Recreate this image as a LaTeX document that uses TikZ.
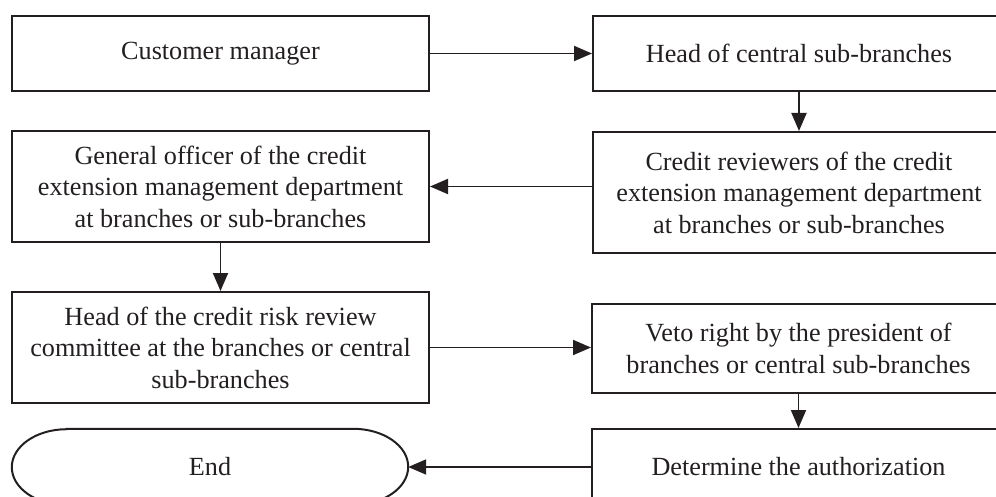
\documentclass[tikz,border=0pt]{standalone}
\usepackage{fontspec}
\setmainfont{Liberation Serif}
\usetikzlibrary{arrows.meta}
\definecolor{ink}{HTML}{231F20}
\tikzset{
  box/.style={draw=ink, line width=2pt, rectangle, align=center, text=ink,
    font=\fontsize{26.2}{31.5}\selectfont, inner sep=0pt},
  arr/.style={draw=ink, line width=1.9pt, -{Triangle[length=18pt,width=15pt]}},
  termtext/.style={align=center, text=ink, font=\fontsize{26.2}{31.5}\selectfont, inner sep=0pt}
}
\begin{document}
\begin{tikzpicture}[x=1pt,y=-1pt]
\useasboundingbox (0,0) rectangle (996,497);
\node[box, minimum width=417pt, minimum height=75pt] (b1) at (220.5,53.5) {Customer manager};
\node[box, minimum width=412pt, minimum height=75pt] (b2) at (799,53.5) {Head of central sub-branches};
\node[box, minimum width=412pt, minimum height=121pt] (b3) at (799,192.5) {Credit reviewers of the credit\\extension management department\\at branches or sub-branches};
\node[box, minimum width=417pt, minimum height=111pt] (b4) at (220.5,186.5) {General officer of the credit\\extension management department\\at branches or sub-branches};
\node[box, minimum width=417pt, minimum height=111pt] (b5) at (220.5,347.5) {Head of the credit risk review\\committee at the branches or central\\sub-branches};
\node[box, minimum width=413pt, minimum height=89pt] (b6) at (798.5,348.5) {Veto right by the president of\\branches or central sub-branches};
\node[box, minimum width=413pt, minimum height=76pt] (b7) at (798.5,467) {Determine the authorization};
\node[termtext, minimum width=396pt, minimum height=76pt] (endn) at (210,467) {End};
\draw[draw=ink, line width=2pt]
  ([xshift=55pt]endn.north west) -- ([xshift=-55pt]endn.north east)
  arc[start angle=90, end angle=-90, x radius=55pt, y radius=38pt]
  -- ([xshift=55pt]endn.south west)
  arc[start angle=270, end angle=90, x radius=55pt, y radius=38pt] -- cycle;
\draw[arr] (b1) -- (b2);
\draw[arr] (b2) -- (b3);
\draw[arr] (b3.west |- b4.east) -- (b4.east);
\draw[arr] (b4) -- (b5);
\draw[arr] (b5.east) -- (b5.east -| b6.west);
\draw[arr] (b6) -- (b7);
\draw[arr] (b7.west) -- (endn.east);
\end{tikzpicture}
\end{document}
